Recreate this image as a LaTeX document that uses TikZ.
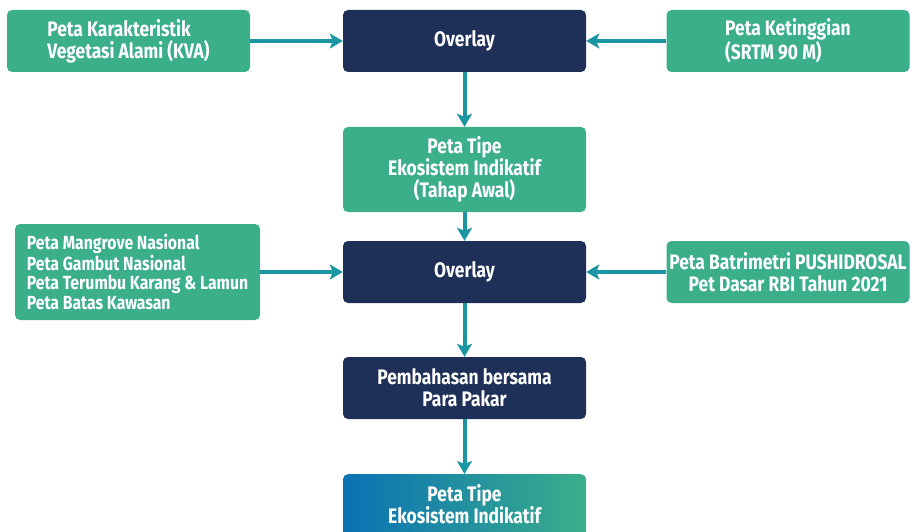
\documentclass[tikz,border=0pt]{standalone}
\usepackage{fontspec}
\setmainfont{Fira Sans}[FakeStretch=0.83]
\usetikzlibrary{arrows.meta}
\definecolor{gbox}{HTML}{3BAE8A}
\definecolor{nbox}{HTML}{1F3058}
\definecolor{arr}{HTML}{1C95A2}
\definecolor{gblue}{HTML}{0A72B4}
\tikzset{
  box/.style={rectangle, rounded corners=5pt, minimum width=243pt, minimum height=62pt,
    inner sep=0pt, text=white, font=\fontsize{21}{22}\selectfont\bfseries, align=center},
  greenbox/.style={box, fill=gbox},
  navybox/.style={box, fill=nbox},
  link/.style={draw=arr, line width=4pt, -{Stealth[length=13pt,width=15pt,inset=3pt]}},
}
\begin{document}
\begin{tikzpicture}[x=1pt,y=-1pt]
\useasboundingbox (0,0) rectangle (915,532);
\node[greenbox, align=left] (kva) at (128.5,41) {Peta Karakteristik\\Vegetasi Alami (KVA)};
\node[navybox] (ov1) at (464.5,41) {Overlay};
\node[greenbox, align=left] (srtm) at (788,41) {Peta Ketinggian\\(SRTM 90 M)};
\node[greenbox, minimum height=85pt] (awal) at (464.5,169.5) {Peta Tipe\\Ekosistem Indikatif\\(Tahap Awal)};
\node[greenbox, minimum width=245pt, minimum height=96pt, align=left, font=\fontsize{19}{19.5}\selectfont\bfseries] (list) at (137.5,272)
  {Peta Mangrove Nasional\\Peta Gambut Nasional\\Peta Terumbu Karang \& Lamun\\Peta Batas Kawasan};
\node[navybox] (ov2) at (464.5,272) {Overlay};
\node[greenbox] (bat) at (788,272) {Peta Batrimetri PUSHIDROSAL\\Pet Dasar RBI Tahun 2021};
\node[navybox] (bahas) at (464.5,388) {Pembahasan bersama\\Para Pakar};
\node[box, minimum height=70pt, left color=gblue, right color=gbox, anchor=north] (akhir) at (464.5,474) {};
\node[text=white, font=\fontsize{21}{22}\selectfont\bfseries, align=center] (akhirtxt) at (464.5,504) {Peta Tipe\\Ekosistem Indikatif};
\draw[link] (kva) -- (ov1);
\draw[link] (srtm) -- (ov1);
\draw[link] (ov1) -- (awal);
\draw[link] (awal) -- (ov2);
\draw[link] (list) -- (ov2);
\draw[link] (bat) -- (ov2);
\draw[link] (ov2) -- (bahas);
\draw[link] (bahas) -- (akhir);
\end{tikzpicture}
\end{document}
